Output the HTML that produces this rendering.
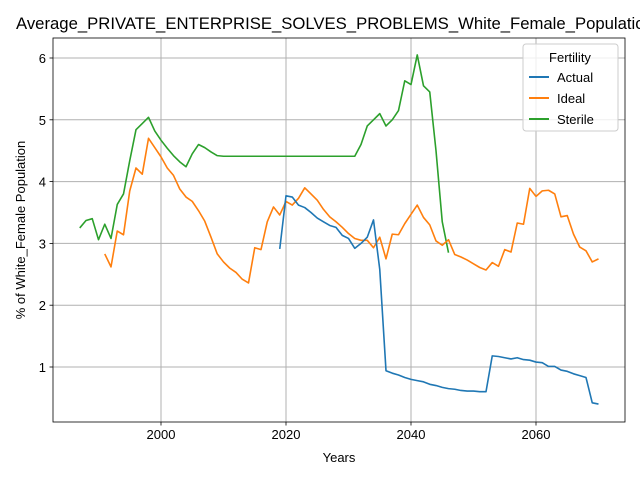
<!DOCTYPE html>
<html><head><meta charset="utf-8"><style>body{margin:0;background:#fff}svg{display:block;font-family:"Liberation Sans","DejaVu Sans",sans-serif}</style></head>
<body>
<svg id="chart" width="640" height="480" xmlns="http://www.w3.org/2000/svg">
<rect width="640" height="480" fill="#fff"/>
<text x="16" y="29" font-size="16.7">Average_PRIVATE_ENTERPRISE_SOLVES_PROBLEMS_White_Female_Population</text>
<g id="grid"></g><g id="series"></g><g id="axes"></g>
<text x="339" y="462" font-size="13" text-anchor="middle">Years</text>
<text x="0" y="0" font-size="13" text-anchor="middle" transform="translate(25,230) rotate(-90)">% of White_Female Population</text>
<g>
<rect x="523" y="44" width="95" height="87" rx="3" fill="#fff" fill-opacity="0.8" stroke="#ccc"/>
<text x="570" y="62" font-size="13" text-anchor="middle">Fertility</text>
<line x1="529" y1="77" x2="549" y2="77" stroke="#1f77b4" stroke-width="2"/><text x="557" y="82" font-size="13">Actual</text>
<line x1="529" y1="98" x2="549" y2="98" stroke="#ff7f0e" stroke-width="2"/><text x="557" y="103" font-size="13">Ideal</text>
<line x1="529" y1="119" x2="549" y2="119" stroke="#2ca02c" stroke-width="2"/><text x="557" y="124" font-size="13">Sterile</text>
</g>
</svg>
<script>
const sterileStart = 1987;
const sterile = [3.25,3.37,3.40,3.06,3.31,3.08,3.63,3.80,4.34,4.84,4.94,5.04,4.82,4.67,4.54,4.42,4.32,4.24,4.45,4.60,4.55,4.48,4.42,4.41,4.41,4.41,4.41,4.41,4.41,4.41,4.41,4.41,4.41,4.41,4.41,4.41,4.41,4.41,4.41,4.41,4.41,4.41,4.41,4.41,4.41,4.60,4.90,5.00,5.10,4.90,5.00,5.15,5.63,5.57,6.05,5.55,5.45,4.50,3.35,2.85];
const idealStart = 1991;
const ideal = [2.83,2.62,3.20,3.14,3.85,4.22,4.12,4.70,4.55,4.40,4.22,4.10,3.88,3.75,3.68,3.53,3.36,3.10,2.83,2.70,2.60,2.53,2.42,2.36,2.93,2.90,3.35,3.59,3.46,3.68,3.62,3.73,3.90,3.80,3.70,3.55,3.43,3.35,3.26,3.16,3.08,3.05,3.05,2.93,3.10,2.75,3.15,3.14,3.32,3.47,3.62,3.42,3.30,3.04,2.97,3.06,2.82,2.78,2.73,2.67,2.61,2.57,2.69,2.63,2.90,2.86,3.33,3.31,3.89,3.76,3.85,3.86,3.80,3.43,3.45,3.15,2.94,2.88,2.70,2.75];
const actualStart = 2019;
const actual = [2.91,3.77,3.75,3.62,3.58,3.50,3.41,3.35,3.29,3.26,3.13,3.08,2.92,3.00,3.10,3.38,2.58,0.94,0.90,0.87,0.83,0.80,0.78,0.76,0.72,0.70,0.67,0.65,0.64,0.62,0.61,0.61,0.60,0.60,1.18,1.17,1.15,1.13,1.15,1.12,1.11,1.08,1.07,1.01,1.01,0.95,0.93,0.89,0.86,0.83,0.42,0.40];
const xTicks = [2000,2020,2040,2060];
const yTicks = [1,2,3,4,5,6];
const L=53,R=625,T=38,B=422;
const xS=y=>161+(y-2000)*6.25;
const yS=v=>367-(v-1)*61.8;
const NS='http://www.w3.org/2000/svg';
function mk(t,a,p){const e=document.createElementNS(NS,t);for(const k in a)e.setAttribute(k,a[k]);p.appendChild(e);return e;}
const grid=document.getElementById('grid'),axes=document.getElementById('axes'),ser=document.getElementById('series');
xTicks.forEach(t=>{const x=xS(t);
 const g=mk('line',{x1:x,x2:x,y1:T,y2:B,stroke:'#b0b0b0','stroke-width':1},grid);
 
 
 mk('line',{x1:x,x2:x,y1:B,y2:B+3.5,stroke:'#000','stroke-width':0.8},axes);
 const tx=mk('text',{x:x,y:B+17,'font-size':13,'text-anchor':'middle'},axes);tx.textContent=t;
 
 });
yTicks.forEach(t=>{const y=yS(t);
 const g=mk('line',{x1:L,x2:R,y1:y,y2:y,stroke:'#b0b0b0','stroke-width':1},grid);
 
 
 mk('line',{x1:L-3.5,x2:L,y1:y,y2:y,stroke:'#000','stroke-width':0.8},axes);
 const tx=mk('text',{x:L-7,y:y+5,'font-size':13,'text-anchor':'end'},axes);tx.textContent=t;
 
 });
const fr=mk('rect',{x:L,y:T,width:R-L,height:B-T,fill:'none',stroke:'#000','stroke-width':0.8},axes);


function line(start,vals,color,name){
 const pts=vals.map((v,i)=>xS(start+i).toFixed(2)+','+yS(v).toFixed(2)).join(' ');
 const p=mk('polyline',{points:pts,fill:'none',stroke:color,'stroke-width':1.6,'stroke-linejoin':'round'},ser);
 
 
}
line(sterileStart,sterile,'#2ca02c','sterile-line');
line(idealStart,ideal,'#ff7f0e','ideal-line');
line(actualStart,actual,'#1f77b4','actual-line');
</script>
</body></html>
